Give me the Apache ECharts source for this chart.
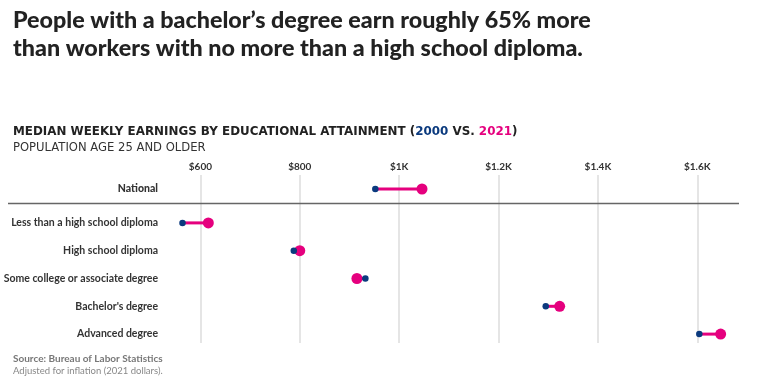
<!DOCTYPE html>
<html>
<head>
<meta charset="utf-8">
<script src="https://cdn.jsdelivr.net/npm/echarts@6/dist/echarts.min.js"></script>
<style>
  html, body { margin: 0; padding: 0; background: #fff; }
  #chart { width: 759px; height: 376px; }
</style>
</head>
<body>
<div id="chart"></div>
<script>
const nationalLabel = ['National'];
const national2000 = [952];
const national2021 = [1046];

const categories = [
  'Less than a high school diploma',
  'High school diploma',
  'Some college or associate degree',
  "Bachelor's degree",
  'Advanced degree'
];
const earnings2000 = [564, 788, 932, 1295, 1604];
const earnings2021 = [616, 800, 915, 1323, 1647];

const tickValues = [600, 800, 1000, 1200, 1400, 1600];
const tickLabels = ['$600', '$800', '$1K', '$1.2K', '$1.4K', '$1.6K'];

const NAVY = '#0b3a7e';
const PINK = '#e5007e';
const FONT = 'Lato, "Noto Sans", sans-serif';
const WIDE = '"DejaVu Sans", sans-serif';

const chart = echarts.init(document.getElementById('chart'));

// x axes share the same scale in all three grids
function xAxisFor(gridIndex, visible) {
  return {
    type: 'value',
    gridIndex: gridIndex,
    min: 400,
    max: 1700,
    interval: 200,
    position: 'top',
    axisLine: { show: false },
    axisTick: { show: false },
    axisLabel: {
      show: visible,
      showMinLabel: false,
      showMaxLabel: false,
      margin: 3,
      fontFamily: FONT,
      fontSize: 10,
      fontWeight: 'bold',
      color: '#333',
      formatter: function (v) {
        const i = tickValues.indexOf(v);
        return i >= 0 ? tickLabels[i] : '';
      }
    },
    splitLine: {
      show: visible,
      showMinLine: false,
      showMaxLine: false,
      lineStyle: { color: '#dcdcdc', width: 1.5 }
    }
  };
}

function catAxis(gridIndex, data, weight) {
  return {
    type: 'category',
    gridIndex: gridIndex,
    data: data,
    inverse: true,
    offset: -57,
    axisLine: { show: false },
    axisTick: { show: false },
    splitLine: { show: false },
    axisLabel: {
      margin: 0,
      fontFamily: FONT,
      fontSize: 10.5,
      fontWeight: weight,
      color: '#333'
    }
  };
}

function connector(xIdx, yIdx, from, to) {
  return {
    type: 'custom',
    xAxisIndex: xIdx,
    yAxisIndex: yIdx,
    silent: true,
    z: 2,
    data: from.map((v, i) => [v, to[i], i]),
    encode: { x: [0, 1], y: 2 },
    renderItem: function (params, api) {
      const a = api.coord([api.value(0), api.value(2)]);
      const b = api.coord([api.value(1), api.value(2)]);
      return {
        type: 'line',
        shape: { x1: a[0], y1: a[1], x2: b[0], y2: b[1] },
        style: { stroke: PINK, lineWidth: 3 }
      };
    }
  };
}

function dots(xIdx, yIdx, values, color, size, z) {
  return {
    type: 'scatter',
    xAxisIndex: xIdx,
    yAxisIndex: yIdx,
    symbol: 'circle',
    symbolSize: size,
    z: z,
    itemStyle: { color: color, opacity: 1 },
    data: values.map((v, i) => [v, i])
  };
}

const option = {
  backgroundColor: '#fff',
  animation: false,
  title: [
    {
      text: 'People with a bachelor\u2019s degree earn roughly 65% more\nthan workers with no more than a high school diploma.',
      left: 8,
      top: 1,
      textStyle: {
        fontFamily: FONT,
        fontSize: 23.3,
        fontWeight: 900,
        color: '#222',
        lineHeight: 28
      }
    },
    {
      text: '{b|MEDIAN WEEKLY EARNINGS BY EDUCATIONAL ATTAINMENT (}{n|2000}{b| VS. }{p|2021}{b|)}',
      left: 8,
      top: 121,
      textStyle: {
        rich: {
          b: { fontFamily: WIDE, fontSize: 11.9, fontWeight: 'bold', color: '#222' },
          n: { fontFamily: WIDE, fontSize: 11.9, fontWeight: 'bold', color: NAVY },
          p: { fontFamily: WIDE, fontSize: 11.9, fontWeight: 'bold', color: PINK }
        }
      }
    },
    {
      text: 'POPULATION AGE 25 AND OLDER',
      left: 8,
      top: 137,
      textStyle: { fontFamily: WIDE, fontSize: 11.6, fontWeight: 'normal', color: '#333' }
    },
    {
      text: 'Source: Bureau of Labor Statistics',
      left: 8,
      top: 349,
      textStyle: { fontFamily: FONT, fontSize: 10, fontWeight: 'bold', color: '#777' }
    },
    {
      text: 'Adjusted for inflation (2021 dollars).',
      left: 8,
      top: 361,
      textStyle: { fontFamily: FONT, fontSize: 9.5, fontWeight: 'normal', color: '#888' }
    }
  ],
  grid: [
    { left: 101, right: 12, top: 175, bottom: 33 },
    { left: 101, right: 12, top: 175, height: 28 },
    { left: 101, right: 12, top: 209, bottom: 28 }
  ],
  xAxis: [xAxisFor(0, true), xAxisFor(1, false), xAxisFor(2, false)],
  yAxis: [
    { type: 'value', gridIndex: 0, show: false },
    catAxis(1, nationalLabel, 900),
    catAxis(2, categories, 700)
  ],
  graphic: [
    {
      type: 'line',
      shape: { x1: 8, y1: 203.5, x2: 739, y2: 203.5 },
      style: { stroke: '#666', lineWidth: 1.5 },
      z: 1
    }
  ],
  series: [
    connector(1, 1, national2000, national2021),
    dots(1, 1, national2021, PINK, 11, 3),
    dots(1, 1, national2000, NAVY, 6.5, 4),
    connector(2, 2, earnings2000, earnings2021),
    dots(2, 2, earnings2021, PINK, 11, 3),
    dots(2, 2, earnings2000, NAVY, 6.5, 4)
  ]
};

chart.setOption(option);
</script>
</body>
</html>
